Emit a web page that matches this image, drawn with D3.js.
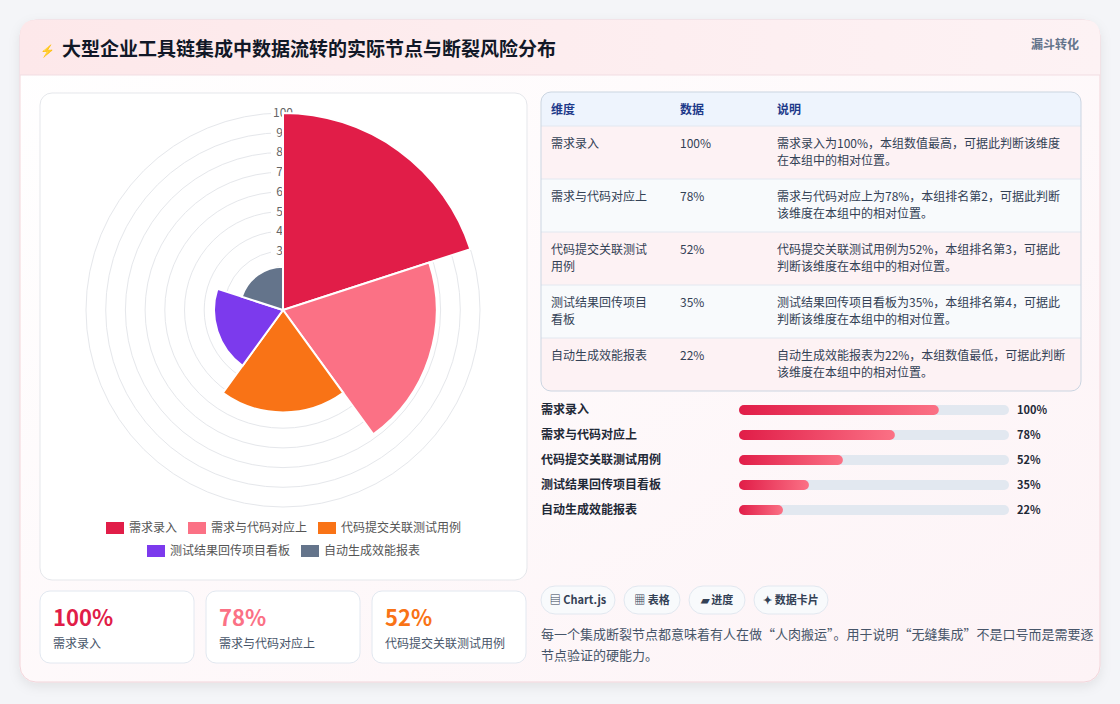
<!DOCTYPE html>
<html lang="zh">
<head>
<meta charset="utf-8">
<script src="https://d3js.org/d3.v7.min.js"></script>
<style>
  body { margin:0; background:#f4f5f8; font-family:"Noto Sans CJK SC","Noto Sans",sans-serif; }
  svg text { font-family:"Noto Sans CJK SC","Noto Sans",sans-serif; }
</style>
</head>
<body>
<svg id="c" width="1120" height="704"></svg>
<script>
// Data
var categories = ["需求录入", "需求与代码对应上", "代码提交关联测试用例", "测试结果回传项目看板", "自动生成效能报表"];
var values = [100, 78, 52, 35, 22];
var colors = ["#e11d48", "#fb7185", "#f97316", "#7c3aed", "#64748b"];
var notes = [
  ["需求录入为100%，本组数值最高，可据此判断该维度", "在本组中的相对位置。"],
  ["需求与代码对应上为78%，本组排名第2，可据此判断", "该维度在本组中的相对位置。"],
  ["代码提交关联测试用例为52%，本组排名第3，可据此", "判断该维度在本组中的相对位置。"],
  ["测试结果回传项目看板为35%，本组排名第4，可据此", "判断该维度在本组中的相对位置。"],
  ["自动生成效能报表为22%，本组数值最低，可据此判断", "该维度在本组中的相对位置。"]
];
var ticks = [10, 20, 30, 40, 50, 60, 70, 80, 90, 100];

var svg = d3.select("#c");
var defs = svg.append("defs");
var hg = defs.append("linearGradient").attr("id", "hg");
hg.append("stop").attr("offset", "0").attr("stop-color", "#fde8ea");
hg.append("stop").attr("offset", "1").attr("stop-color", "#fdf2f4");
var bg = defs.append("linearGradient").attr("id", "bg").attr("x1", 0).attr("y1", 0).attr("x2", 1).attr("y2", 1);
bg.append("stop").attr("offset", "0").attr("stop-color", "#ffffff");
bg.append("stop").attr("offset", "1").attr("stop-color", "#fdf3f6");
var barg = defs.append("linearGradient").attr("id", "barg");
barg.append("stop").attr("offset", "0").attr("stop-color", "#e11d48");
barg.append("stop").attr("offset", "1").attr("stop-color", "#fb7185");
var sh = defs.append("filter").attr("id", "sh").attr("x", "-10%").attr("y", "-10%").attr("width", "120%").attr("height", "130%");
sh.append("feDropShadow").attr("dx", 0).attr("dy", 4).attr("stdDeviation", 6).attr("flood-color", "#000").attr("flood-opacity", 0.08);

// Main card
svg.append("rect").attr("x", 20).attr("y", 20).attr("width", 1080).attr("height", 662).attr("rx", 16)
  .attr("fill", "url(#bg)").attr("stroke", "#f3d5da").attr("filter", "url(#sh)");
svg.append("path").attr("d", "M20,75 V36 Q20,20 36,20 H1084 Q1100,20 1100,36 V75 Z").attr("fill", "url(#hg)");
svg.append("line").attr("x1", 20).attr("x2", 1100).attr("y1", 75).attr("y2", 75).attr("stroke", "#f1dde2");
svg.append("text").attr("x", 40).attr("y", 55).attr("font-size", 12).attr("fill", "#6366f1").text("⚡");
svg.append("text").attr("x", 62).attr("y", 56).attr("font-size", 19).attr("font-weight", 700).attr("fill", "#111827")
  .text("大型企业工具链集成中数据流转的实际节点与断裂风险分布");
svg.append("text").attr("x", 1079).attr("y", 49).attr("text-anchor", "end").attr("font-size", 12).attr("font-weight", 700)
  .attr("fill", "#64748b").text("漏斗转化");

// Left panel: polar area
svg.append("rect").attr("x", 40).attr("y", 93).attr("width", 487).attr("height", 487).attr("rx", 12)
  .attr("fill", "#fff").attr("stroke", "#e5e7eb");
var cx = 283, cy = 310;
var r = d3.scaleLinear().domain([0, 100]).range([0, 197]);
var pg = svg.append("g").attr("transform", "translate(" + cx + "," + cy + ")");
pg.selectAll("circle").data(ticks).enter().append("circle")
  .attr("r", function(d) { return r(d); }).attr("fill", "none").attr("stroke", "#e5e7eb");
var tl = pg.selectAll("g.tk").data(ticks.slice(1)).enter().append("g").attr("class", "tk");
tl.append("rect").attr("x", -12).attr("y", function(d) { return -r(d) - 7; }).attr("width", 24).attr("height", 14).attr("fill", "#fff");
tl.append("text").attr("y", function(d) { return -r(d) + 4; }).attr("text-anchor", "middle")
  .attr("font-size", 12).attr("fill", "#666").attr("font-family", "Liberation Sans, Arial").text(function(d) { return d; });
var step = 2 * Math.PI / values.length;
var arc = d3.arc().innerRadius(0);
pg.selectAll("path").data(values).enter().append("path")
  .attr("d", function(d, i) { return arc({ outerRadius: r(d), startAngle: i * step, endAngle: (i + 1) * step }); })
  .attr("fill", function(d, i) { return colors[i]; }).attr("stroke", "#fff").attr("stroke-width", 2);

// Legend
var legRows = [[0, 1, 2], [3, 4]];
legRows.forEach(function(row, ri) {
  var widths = row.map(function(i) { return 22 + categories[i].length * 12 + 12; });
  var total = d3.sum(widths) - 12;
  var x = cx - total / 2;
  row.forEach(function(i, k) {
    svg.append("rect").attr("x", x).attr("y", 522 + ri * 23).attr("width", 18).attr("height", 12).attr("fill", colors[i]);
    svg.append("text").attr("x", x + 23).attr("y", 532 + ri * 23).attr("font-size", 12).attr("fill", "#555").text(categories[i]);
    x += widths[k];
  });
});

// KPI cards
[0, 1, 2].forEach(function(i) {
  var x = 40 + i * 166;
  svg.append("rect").attr("x", x).attr("y", 591).attr("width", 154).attr("height", 72).attr("rx", 10)
    .attr("fill", "#fff").attr("stroke", "#e2e8f0");
  svg.append("text").attr("x", x + 13).attr("y", 626).attr("font-size", 22).attr("font-weight", 700)
    .attr("fill", colors[i]).text(values[i] + "%");
  svg.append("text").attr("x", x + 13).attr("y", 648).attr("font-size", 12).attr("fill", "#475569").text(categories[i]);
});

// Table
var tx = 541, ty = 92, tw = 540, th = 299;
var clip = defs.append("clipPath").attr("id", "tc");
clip.append("rect").attr("x", tx).attr("y", ty).attr("width", tw).attr("height", th).attr("rx", 10);
var tg = svg.append("g").attr("clip-path", "url(#tc)");
tg.append("rect").attr("x", tx).attr("y", ty).attr("width", tw).attr("height", 34).attr("fill", "#eef4fd");
var rowH = 53;
values.forEach(function(v, i) {
  var y = ty + 34 + i * rowH;
  tg.append("rect").attr("x", tx).attr("y", y).attr("width", tw).attr("height", rowH)
    .attr("fill", i % 2 ? "#f8fafc" : "#fdf2f4");
  tg.append("line").attr("x1", tx).attr("x2", tx + tw).attr("y1", y).attr("y2", y).attr("stroke", "#e2e8f0");
  tg.append("text").attr("x", 551).attr("y", y + 22).attr("font-size", 12).attr("fill", "#334155").text(categories[i].length > 8 ? categories[i].slice(0, 8) : categories[i]);
  if (categories[i].length > 8)
    tg.append("text").attr("x", 551).attr("y", y + 39).attr("font-size", 12).attr("fill", "#334155").text(categories[i].slice(8));
  tg.append("text").attr("x", 680).attr("y", y + 22).attr("font-size", 12).attr("fill", "#334155").text(v + "%");
  notes[i].forEach(function(t, k) {
    tg.append("text").attr("x", 777).attr("y", y + 22 + k * 17).attr("font-size", 12).attr("fill", "#334155").text(t);
  });
});
svg.append("rect").attr("x", tx).attr("y", ty).attr("width", tw).attr("height", th).attr("rx", 10)
  .attr("fill", "none").attr("stroke", "#cbd5e1");
["维度", "数据", "说明"].forEach(function(t, i) {
  svg.append("text").attr("x", [551, 680, 777][i]).attr("y", 114).attr("font-size", 12).attr("font-weight", 700)
    .attr("fill", "#1e3a8a").text(t);
});

// Progress bars
var bx = d3.scaleLinear().domain([0, 100]).range([739, 1009]);
values.forEach(function(v, i) {
  var y = 410 + i * 25;
  svg.append("text").attr("x", 541).attr("y", y + 4).attr("font-size", 12).attr("font-weight", 600).attr("fill", "#1f2937").text(categories[i]);
  svg.append("rect").attr("x", bx(0)).attr("y", y - 5).attr("width", bx(100) - bx(0)).attr("height", 10).attr("rx", 5).attr("fill", "#e2e8f0");
  svg.append("rect").attr("x", bx(0)).attr("y", y - 5).attr("width", (bx(v) - bx(0)) * 0.74).attr("height", 10).attr("rx", 5).attr("fill", "url(#barg)");
  svg.append("text").attr("x", 1017).attr("y", y + 4).attr("font-size", 11).attr("font-weight", 700).attr("fill", "#1f2937").text(v + "%");
});

// Tags
var tags = ["▤ Chart.js", "▦ 表格", "▰ 进度", "✦ 数据卡片"];
var tagW = [74, 56, 56, 74];
var gx = 541;
tags.forEach(function(t, i) {
  svg.append("rect").attr("x", gx).attr("y", 586).attr("width", tagW[i]).attr("height", 28).attr("rx", 14)
    .attr("fill", "#f8fafc").attr("stroke", "#e2e8f0");
  svg.append("text").attr("x", gx + tagW[i] / 2).attr("y", 604).attr("text-anchor", "middle").attr("font-size", 11)
    .attr("font-weight", 700).attr("fill", "#334155").text(t);
  gx += tagW[i] + 9;
});
svg.append("text").attr("x", 541).attr("y", 639).attr("font-size", 13).attr("fill", "#475569")
  .text("每一个集成断裂节点都意味着有人在做“人肉搬运”。用于说明“无缝集成”不是口号而是需要逐");
svg.append("text").attr("x", 541).attr("y", 660).attr("font-size", 13).attr("fill", "#475569").text("节点验证的硬能力。");
</script>
</body>
</html>
